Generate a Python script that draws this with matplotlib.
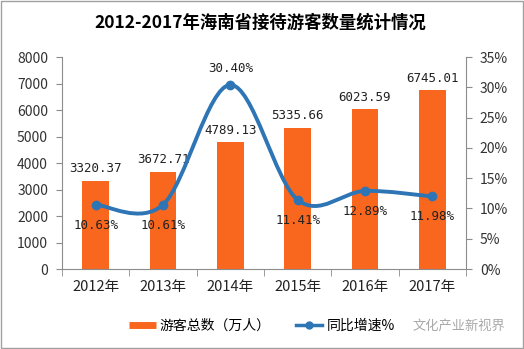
import matplotlib.pyplot as plt
import numpy as np
from matplotlib.path import Path
from matplotlib.patches import PathPatch, Rectangle
from matplotlib.lines import Line2D

plt.rcParams['font.family'] = ['Noto Sans CJK SC', 'DejaVu Sans']

# 海南省接待游客数据
years = ['2012年', '2013年', '2014年', '2015年', '2016年', '2017年']
visitors = [3320.37, 3672.71, 4789.13, 5335.66, 6023.59, 6745.01]
growth = [10.63, 10.61, 30.40, 11.41, 12.89, 11.98]
visitor_labels = ['3320.37', '3672.71', '4789.13', '5335.66', '6023.59', '6745.01']
growth_labels = ['10.63%', '10.61%', '30.40%', '11.41%', '12.89%', '11.98%']

orange = '#F9661D'
blue = '#2E75B6'
axis_grey = '#8C8C8C'

fig = plt.figure(figsize=(5.24, 3.49), dpi=100)
ax = fig.add_axes([0.1183, 0.2292, 0.771, 0.6074])
ax2 = ax.twinx()

x = np.arange(len(years))
ax.bar(x, visitors, width=0.4, color=orange, zorder=2)
ax.set_xlim(-0.5, len(years) - 0.5)
ax.set_ylim(0, 8000)
ax.set_yticks(np.arange(0, 8001, 1000))
ax2.set_ylim(0, 35)
ax2.set_yticks(np.arange(0, 36, 5))
ax2.set_yticklabels([f'{v}%' for v in range(0, 36, 5)])

# 平滑折线：按 Catmull-Rom 方式由数据点求贝塞尔控制点
pts = np.column_stack([x, growth]).astype(float)
verts = [pts[0]]
codes = [Path.MOVETO]
n = len(pts)
for i in range(n - 1):
    p_prev = pts[i - 1] if i > 0 else pts[i]
    p_next2 = pts[i + 2] if i + 2 < n else pts[i + 1]
    c1 = pts[i] + (pts[i + 1] - p_prev) / 6
    c2 = pts[i + 1] - (p_next2 - pts[i]) / 6
    verts += [c1, c2, pts[i + 1]]
    codes += [Path.CURVE4] * 3
ax2.add_patch(PathPatch(Path(verts, codes), fill=False, edgecolor=blue, lw=2.8, zorder=3))
ax2.plot(x, growth, 'o', color=blue, ms=6, zorder=4)

# 数据标签
mono = 'DejaVu Sans Mono'
for xi, v, t in zip(x, visitors, visitor_labels):
    ax.annotate(t, (xi, v), xytext=(0, 4), textcoords='offset points',
                ha='center', va='bottom', fontsize=9, family=mono, color='#222222')
for xi, g, t in zip(x, growth, growth_labels):
    if g > 20:
        ax2.annotate(t, (xi, g), xytext=(0, 7), textcoords='offset points',
                     ha='center', va='bottom', fontsize=9, family=mono, color='#222222')
    else:
        ax2.annotate(t, (xi, g), xytext=(0, -10), textcoords='offset points',
                     ha='center', va='top', fontsize=9, family=mono, color='#222222')

# 坐标轴样式
for a in (ax, ax2):
    a.spines['top'].set_visible(False)
    for s in ('left', 'right', 'bottom'):
        a.spines[s].set_color(axis_grey)
ax.spines['right'].set_visible(False)
ax2.spines['left'].set_visible(False)
ax2.spines['bottom'].set_visible(False)

ax.tick_params(axis='y', direction='out', length=4, color=axis_grey, labelsize=10,
               pad=6, labelcolor='#333333')
ax2.tick_params(axis='y', direction='out', length=4, color=axis_grey, labelsize=10,
                pad=6, labelcolor='#333333')
ax.set_xticks(x)
ax.set_xticklabels(years, fontsize=10.5, color='#222222')
ax.tick_params(axis='x', length=0, pad=8)
ax.set_xticks(np.arange(-0.5, len(years), 1), minor=True)
ax.tick_params(axis='x', which='minor', direction='out', length=5, color=axis_grey)

fig.text(0.496, 0.934, '2012-2017年海南省接待游客数量统计情况',
         ha='center', va='center', fontsize=12.5, fontweight='bold')

handles = [Line2D([], [], color=orange, lw=5, solid_capstyle='butt'),
           Line2D([], [], color=blue, lw=2.5, marker='o', ms=5)]
fig.legend(handles, ['游客总数（万人）', '同比增速%'], loc='center',
           bbox_to_anchor=(0.5, 0.066), ncol=2, frameon=False, fontsize=10,
           handlelength=1.9, columnspacing=1.8, handletextpad=0.3)

fig.text(0.965, 0.066, '文化产业新视界', ha='right', va='center',
         fontsize=9.5, color='#A8A8A8')

fig.add_artist(Rectangle((0.001, 0.002), 0.997, 0.995, transform=fig.transFigure,
                         fill=False, edgecolor='#A0A0A0', lw=1))

fig.savefig('out.png', dpi=100)
